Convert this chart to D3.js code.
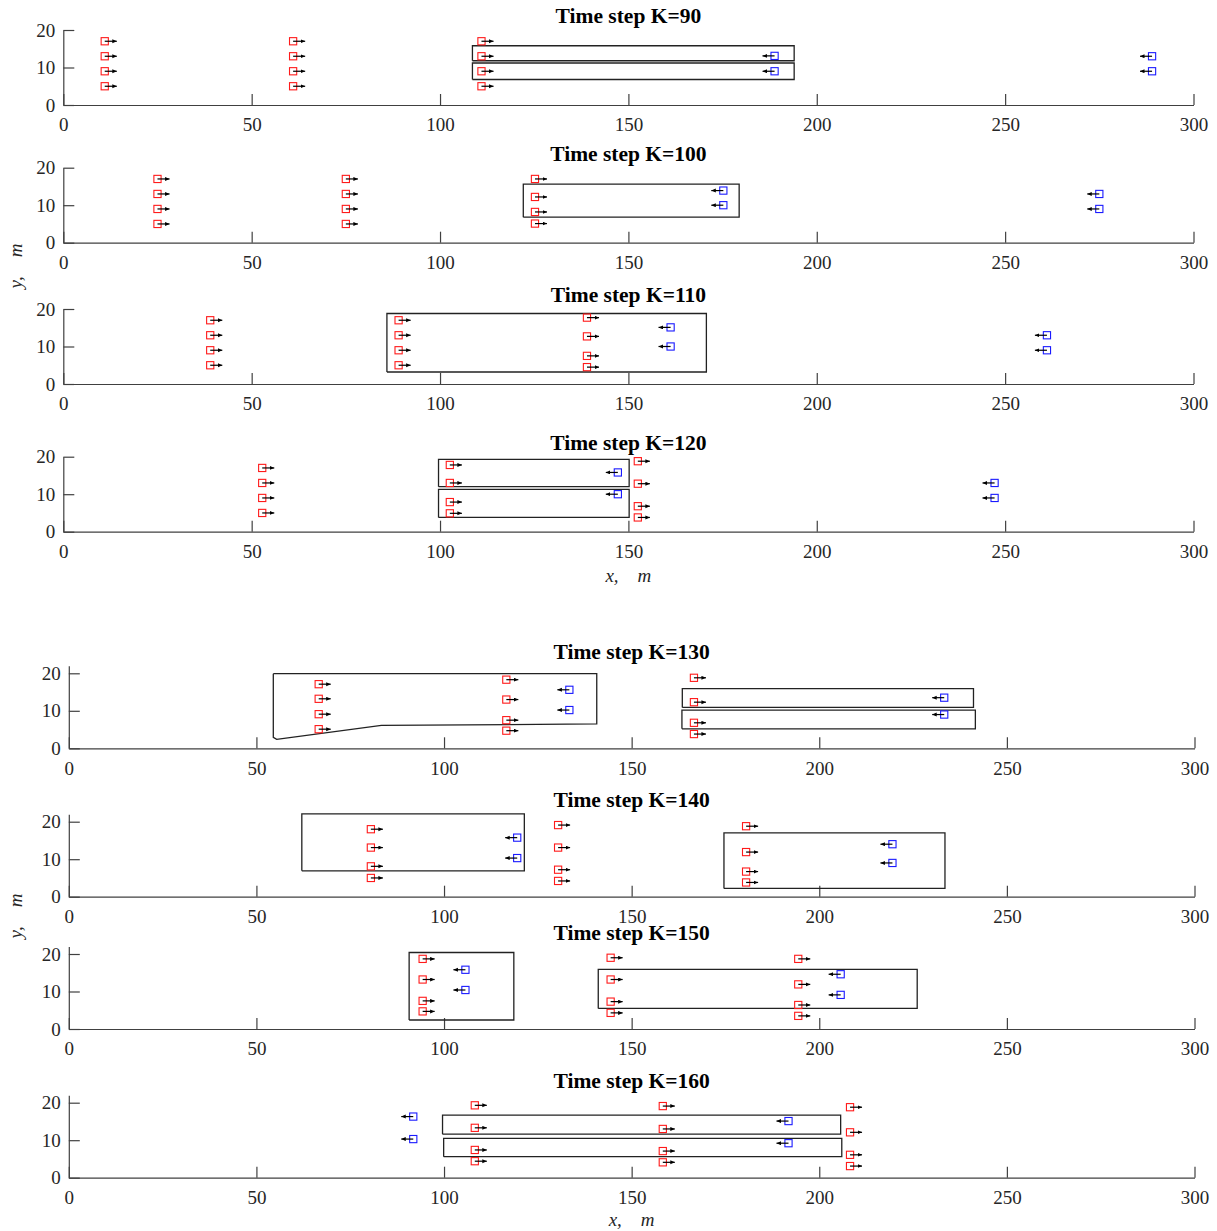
<!DOCTYPE html>
<html>
<head>
<meta charset="utf-8">
<script src="https://cdn.jsdelivr.net/npm/d3@7"></script>
<style>
  body { margin: 0; background: #fff; }
  svg { display: block; font-family: "Liberation Serif", "Times New Roman", serif; }
  .tick text { font-size: 19px; fill: #262626; }
  .axis path, .axis line { stroke: #404040; stroke-width: 1.2; }
</style>
</head>
<body>
<svg width="1217" height="1231"></svg>
<script>
// time steps shown, one panel each
const steps = [90, 100, 110, 120, 130, 140, 150, 160];
const xTicks = [0, 50, 100, 150, 200, 250, 300];
const yTicks = [0, 10, 20];

// red vehicles (moving right), [x, y] in metres
const redCars = [
    [[11,17],[11,13],[11,9],[11,5],[61,17],[61,13],[61,9],[61,5],[111,17],[111,13],[111,9],[111,5]],
    [[25,17],[25,13],[25,9],[25,5],[75,17],[75,13],[75,9],[75,5],[125.2,17],[125.2,12.2],[125.2,8.2],[125.2,5.1]],
    [[39,17],[39,13],[39,9],[39,5],[89,17],[89,13],[89,9],[89,5],[139,17.7],[139,12.7],[139,7.5],[139,4.5]],
    [[52.8,17],[52.8,13],[52.8,9],[52.8,5],[102.6,17.8],[102.6,13],[102.6,7.9],[102.6,4.9],[152.5,18.8],[152.5,12.8],[152.5,6.8],[152.5,3.8]],
    [[66.6,17.1],[66.6,13.2],[66.6,9.1],[66.6,5.1],[116.6,18.3],[116.6,13],[116.6,7.5],[116.6,4.7],[166.6,18.8],[166.6,12.3],[166.6,6.8],[166.6,3.8]],
    [[80.5,18],[80.5,13.1],[80.5,8.1],[80.5,5],[130.4,19.1],[130.4,13.1],[130.4,7.2],[130.4,4.2],[180.5,18.8],[180.5,11.9],[180.5,6.7],[180.5,3.8]],
    [[94.3,18.7],[94.3,13.2],[94.3,7.5],[94.3,4.7],[144.4,19],[144.4,13.2],[144.4,7.3],[144.4,4.3],[194.4,18.7],[194.4,11.9],[194.4,6.4],[194.4,3.5]],
    [[108.2,19.3],[108.2,13.3],[108.2,7.4],[108.2,4.4],[158.3,19.1],[158.3,13],[158.3,7.1],[158.3,4.1],[208.2,18.8],[208.2,12.1],[208.2,6.1],[208.2,3.1]]
];

// blue vehicles (moving left)
const blueCars = [
    [[188.8,13.1],[188.8,9],[289,13],[289,9]],
    [[175.2,13.9],[175.2,10],[275,13],[275,9]],
    [[161.2,15.1],[161.2,10],[261.1,13],[261.1,9]],
    [[147.2,15.8],[147.2,10],[247.2,13],[247.2,9]],
    [[133.4,15.6],[133.4,10.2],[233.3,13.5],[233.3,9]],
    [[119.5,15.75],[119.5,10.3],[219.5,14],[219.5,9]],
    [[105.7,15.8],[105.7,10.4],[205.7,14.6],[205.7,9.1]],
    [[91.8,16.3],[91.8,10.3],[191.8,15.1],[191.8,9.2]]
];

// rectangular regions [x0, x1, y0, y1]
const rectRegions = [
    [[108.6,194,11.8,15.8],[108.6,194,6.8,11.2]],
    [[122.1,179.4,6.8,15.6]],
    [[85.9,170.7,3.2,18.8]],
    [[99.6,150.2,12,19.3],[99.6,150.2,3.8,11.3]],
    [[163.5,241.1,10.9,15.9],[163.4,241.6,5.2,10.2]],
    [[62.1,121.4,6.9,22.1],[174.6,233.5,2.2,17]],
    [[90.7,118.6,2.4,20.4],[141.1,226.1,5.5,15.9]],
    [[99.6,205.7,11.6,16.7],[99.9,206,5.6,10.5]]
];

// one irregular region at K=130
const polyRegions = [
    [], [], [], [],
    [[[54.5,19.9],[140.7,19.9],[140.7,6.5],[83.3,6.1],[55.4,2.4],[54.5,2.9],[54.5,19.9]]],
    [], [], []
];

const arrowLen = 3.2; // metres

const groups = [
    { xLeft: 63.3, xRight: 1193.5, yMax: 20, base: [105, 242.7, 384, 531.7], xLab: 582, yLabY: 266 },
    { xLeft: 68.8, xRight: 1194.5, yMax: 22, base: [748.3, 896.7, 1029, 1177.7], xLab: 1226, yLabY: 916 }
];
const pxPerUnitY = 3.75;

const svg = d3.select("svg");

svg.append("defs").append("marker")
    .attr("id", "head")
    .attr("markerUnits", "userSpaceOnUse")
    .attr("markerWidth", 6)
    .attr("markerHeight", 6)
    .attr("refX", 4.5)
    .attr("refY", 2)
    .attr("orient", "auto")
    .append("path")
    .attr("d", "M0,0 L4.5,2 L0,4 Z")
    .attr("fill", "#000");

steps.forEach((k, i) => {
    const g = groups[Math.floor(i / 4)];
    const y0 = g.base[i % 4];

    const x = d3.scaleLinear().domain([0, 300]).range([g.xLeft, g.xRight]);
    const y = d3.scaleLinear().domain([0, g.yMax]).range([y0, y0 - g.yMax * pxPerUnitY]);

    const panel = svg.append("g");

    // axes
    panel.append("g")
        .attr("class", "axis")
        .attr("transform", `translate(0, ${y0})`)
        .call(d3.axisBottom(x).tickValues(xTicks).tickSizeInner(-11).tickSizeOuter(0).tickPadding(13))
        .call(a => a.selectAll(".tick text").attr("fill", "#262626"));

    panel.append("g")
        .attr("class", "axis")
        .attr("transform", `translate(${g.xLeft}, 0)`)
        .call(d3.axisLeft(y).tickValues(yTicks).tickSizeInner(-11).tickSizeOuter(0).tickPadding(8))
        .call(a => a.selectAll(".tick text").attr("fill", "#262626"));

    svg.selectAll(".axis").attr("font-family", null).attr("font-size", null);

    // title
    panel.append("text")
        .text("Time step K=" + k)
        .attr("x", (g.xLeft + g.xRight) / 2)
        .attr("y", y(g.yMax) - 7)
        .attr("font-size", 21.5)
        .attr("font-weight", "bold")
        .attr("text-anchor", "middle")
        .attr("fill", "#000");

    // regions
    const line = d3.line().x(d => x(d[0])).y(d => y(d[1]));
    const rects = rectRegions[i].map(r => [[r[0], r[2]], [r[1], r[2]], [r[1], r[3]], [r[0], r[3]], [r[0], r[2]]]);
    panel.selectAll(".region")
        .data(rects.concat(polyRegions[i]))
        .join("path")
        .attr("class", "region")
        .attr("d", line)
        .attr("fill", "none")
        .attr("stroke", "#222")
        .attr("stroke-width", 1.3);

    // vehicles
    const cars = redCars[i].map(d => ({ x: d[0], y: d[1], c: "#ff1a1a", dir: 1 }))
        .concat(blueCars[i].map(d => ({ x: d[0], y: d[1], c: "#1a1aff", dir: -1 })));

    panel.selectAll(".car")
        .data(cars)
        .join("rect")
        .attr("class", "car")
        .attr("x", d => x(d.x) - 3.6)
        .attr("y", d => y(d.y) - 3.6)
        .attr("width", 7.2)
        .attr("height", 7.2)
        .attr("fill", "none")
        .attr("stroke", d => d.c)
        .attr("stroke-width", 1.1);

    panel.selectAll(".vel")
        .data(cars)
        .join("line")
        .attr("class", "vel")
        .attr("x1", d => x(d.x))
        .attr("y1", d => y(d.y))
        .attr("x2", d => x(d.x + d.dir * arrowLen))
        .attr("y2", d => y(d.y))
        .attr("stroke", "#000")
        .attr("stroke-width", 1.2)
        .attr("marker-end", "url(#head)");
});

// axis titles
groups.forEach(g => {
    svg.append("text")
        .text("x,    m")
        .attr("x", (g.xLeft + g.xRight) / 2)
        .attr("y", g.xLab)
        .attr("font-size", 19)
        .attr("font-style", "italic")
        .attr("text-anchor", "middle")
        .style("white-space", "pre")
        .attr("fill", "#262626");

    svg.append("text")
        .text("y,    m")
        .attr("transform", `translate(22, ${g.yLabY}) rotate(-90)`)
        .attr("font-size", 19)
        .attr("font-style", "italic")
        .attr("text-anchor", "middle")
        .style("white-space", "pre")
        .attr("fill", "#262626");
});
</script>
</body>
</html>
